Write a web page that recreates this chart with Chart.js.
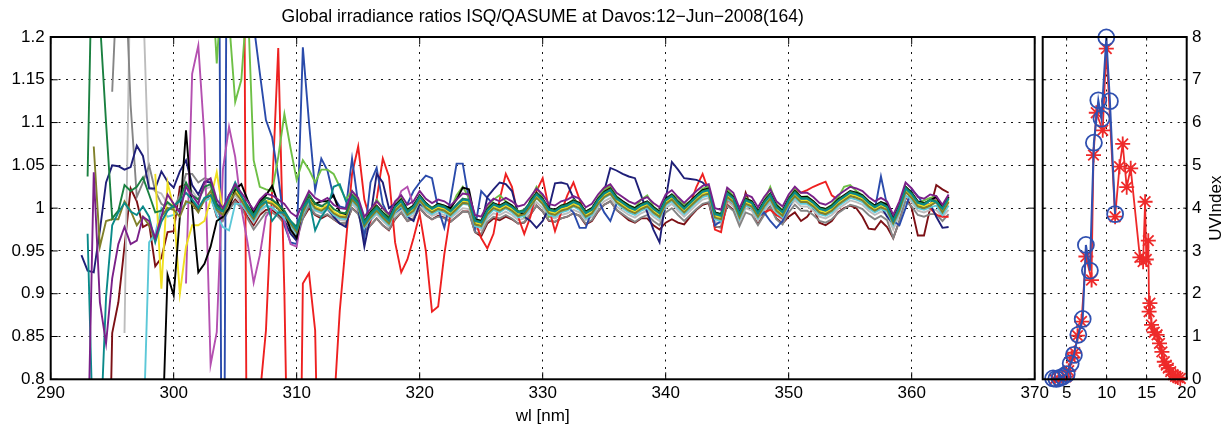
<!DOCTYPE html>
<html>
<head>
<meta charset="utf-8">
<script src="https://cdn.jsdelivr.net/npm/chart.js@4.4.1/dist/chart.umd.min.js"></script>
<style>
  html, body { margin: 0; padding: 0; background: #fff; }
  #wrap { position: relative; width: 1226px; height: 428px; background: #fff; overflow: hidden; }
  canvas { position: absolute; top: 0; }
  #ratio-chart { left: 0; }
  #uv-chart { left: 1030px; }
</style>
</head>
<body>
<div id="wrap">
  <canvas id="ratio-chart" width="1060" height="428"></canvas>
  <canvas id="uv-chart" width="196" height="428"></canvas>
</div>
<script>
// wavelengths [nm], 0.5 nm steps
const wavelengths = [
  292.5, 293, 293.5, 294, 294.5, 295, 295.5, 296, 296.5, 297,
  297.5, 298, 298.5, 299, 299.5, 300, 300.5, 301, 301.5, 302,
  302.5, 303, 303.5, 304, 304.5, 305, 305.5, 306, 306.5, 307,
  307.5, 308, 308.5, 309, 309.5, 310, 310.5, 311, 311.5, 312,
  312.5, 313, 313.5, 314, 314.5, 315, 315.5, 316, 316.5, 317,
  317.5, 318, 318.5, 319, 319.5, 320, 320.5, 321, 321.5, 322,
  322.5, 323, 323.5, 324, 324.5, 325, 325.5, 326, 326.5, 327,
  327.5, 328, 328.5, 329, 329.5, 330, 330.5, 331, 331.5, 332,
  332.5, 333, 333.5, 334, 334.5, 335, 335.5, 336, 336.5, 337,
  337.5, 338, 338.5, 339, 339.5, 340, 340.5, 341, 341.5, 342,
  342.5, 343, 343.5, 344, 344.5, 345, 345.5, 346, 346.5, 347,
  347.5, 348, 348.5, 349, 349.5, 350, 350.5, 351, 351.5, 352,
  352.5, 353, 353.5, 354, 354.5, 355, 355.5, 356, 356.5, 357,
  357.5, 358, 358.5, 359, 359.5, 360, 360.5, 361, 361.5, 362,
  362.5, 363
];

// irradiance ratios ISQ/QASUME, in thousandths
const purpleRatio = [
  null, 700, 1042, 890, 842, 918, 958, 978, 958, 962,
  990, 985, 965, 990, 1016, 1005, 995, 1025, 1015, 1005,
  1030, 1035, 1010, 1000, 1015, 1028, 1018, 1008, 998, 1010,
  1017, 1015, 1010, 1005, 995, 990, 1005, 1020, 1012, 1008,
  1012, 1004, 1000, 999, 1020, 1012, 990, 999, 1008, 1000,
  993, 1008, 1015, 1004, 1008, 1020, 1011, 1006, 1010, 1008,
  1003, 1010, 1017, 1016, 992, 990, 1004, 1011, 1008, 1012,
  1008, 1002, 1004, 1013, 1023, 1016, 1005, 1003, 1008, 1010,
  1014, 1011, 1001, 1005, 1016, 1024, 1028, 1018, 1013, 1008,
  1005, 1010, 1013, 1006, 1001, 1016, 1021, 1013, 1006, 1013,
  1020, 1026, 1028, 1000, 998, 1024, 1018, 1000, 1016, 1013,
  1001, 1013, 1022, 1008, 1002, 1016, 1025, 1018, 1018, 1013,
  1006, 1004, 1008, 1015, 1020, 1025, 1023, 1020, 1013, 1008,
  1012, 1008, 992, 1008, 1030, 1023, 1013, 1011, 1016, 1014,
  1004, 1016
];
const tealRatio = [
  null, 970, 700, 720, 896, 980, 995, 1006, 996, 992,
  1002, 990, 960, 984, 997, 1003, 1008, 1018, 1010, 1000,
  1012, 1015, 1000, 996, 1012, 1030, 1015, 1000, 990, 1003,
  1008, 985, 995, 995, 985, 975, 1000, 1010, 974, 990,
  1000, 1025, 1028, 1008, 1013, 1005, 982, 992, 1000, 992,
  985, 1001, 1008, 995, 1001, 1013, 1004, 999, 1003, 1001,
  996, 1003, 1010, 1009, 985, 983, 997, 1004, 1001, 1005,
  1001, 995, 996, 1006, 1016, 1009, 998, 996, 1001, 1003,
  1007, 1004, 994, 998, 1009, 1017, 1021, 1011, 1006, 1001,
  998, 1003, 1006, 999, 994, 1009, 1014, 1006, 999, 1006,
  1013, 1019, 1021, 993, 991, 1017, 1011, 993, 1009, 1006,
  994, 1006, 1015, 1001, 995, 1009, 1018, 1011, 1011, 1006,
  999, 997, 1001, 1008, 1013, 1018, 1016, 1013, 1006, 1001,
  1005, 1001, 985, 1001, 1023, 1016, 1006, 1004, 1009, 1007,
  999, 1011
];
const darkGreenRatio = [
  null, 1037, 1400, 1220, 1100, 988, 997, 1027, 1020, 1025,
  1036, 1016, 995, 997, 1007, 1001, 1010, 1030, 1015, 1010,
  1025, 1028, 1003, 997, 1012, 1025, 1014, 1003, 992, 1005,
  1012, 1010, 1004, 997, 985, 978, 1000, 1016, 1005, 1002,
  1007, 999, 995, 994, 1015, 1007, 984, 994, 1002, 994,
  987, 1002, 1009, 997, 1002, 1014, 1005, 1000, 1004, 1002,
  997, 1004, 1011, 1010, 986, 984, 998, 1005, 1002, 1006,
  1002, 996, 998, 1007, 1017, 1010, 999, 997, 1002, 1004,
  1008, 1005, 995, 999, 1010, 1018, 1022, 1012, 1007, 1002,
  999, 1004, 1007, 1000, 995, 1010, 1015, 1007, 1000, 1007,
  1014, 1020, 1022, 994, 992, 1018, 1012, 994, 1010, 1007,
  995, 1007, 1016, 1002, 996, 1010, 1019, 1012, 1012, 1007,
  1000, 998, 1002, 1009, 1014, 1019, 1017, 1014, 1007, 1002,
  1006, 1002, 986, 1002, 1024, 1017, 1007, 1005, 1010, 1008,
  1000, 1012
];
const oliveRatio = [
  null, null, 1072, 955, 985, 987, 987, 1008, 997, 980,
  990, 980, 962, 990, 1000, 998, 990, 1008, 1005, 995,
  1010, 1020, 998, 992, 1007, 1018, 1009, 997, 987, 1000,
  1007, 1005, 999, 992, 982, 972, 995, 1010, 1000, 997,
  1002, 994, 990, 989, 1010, 1002, 979, 989, 997, 989,
  982, 997, 1004, 992, 997, 1009, 1000, 995, 999, 997,
  992, 999, 1006, 1005, 981, 979, 993, 1000, 997, 1001,
  997, 991, 993, 1002, 1012, 1005, 994, 992, 997, 999,
  1003, 1000, 990, 994, 1005, 1013, 1017, 1007, 1002, 997,
  994, 999, 1002, 995, 990, 1005, 1010, 1002, 995, 1002,
  1009, 1015, 1017, 989, 987, 1013, 1007, 989, 1005, 1002,
  990, 1002, 1011, 997, 991, 1005, 1014, 1007, 1007, 1002,
  995, 993, 997, 1004, 1009, 1014, 1012, 1009, 1002, 997,
  1001, 998, 982, 997, 1019, 1012, 1002, 1000, 1003, 1007,
  995, 1007
];
const blackRatio = [
  null, null, null, null, null, null, null, null, null, null,
  null, null, null, 700, 922, 898, 990, 1091, 1000, 925,
  935, 955, 985, 990, 1000, 1022, 1028, 1010, 995, 1008,
  1015, 1026, 1005, 995, 975, 965, 1000, 1015, 1005, 1008,
  1008, 1015, 995, 993, 1015, 1007, 984, 995, 1003, 995,
  988, 1003, 1010, 998, 1003, 1015, 1006, 1000, 1005, 1003,
  1000, 1010, 1024, 1022, 987, 985, 999, 1006, 1003, 1007,
  1003, 996, 993, 1008, 1018, 1011, 1000, 998, 1003, 1005,
  1009, 1006, 996, 1000, 1011, 1019, 1023, 1013, 1008, 1003,
  1000, 1005, 1008, 1001, 996, 1011, 1016, 1008, 1001, 1008,
  1015, 1021, 1023, 995, 993, 1019, 1013, 995, 1011, 1008,
  996, 1008, 1017, 1003, 997, 1011, 1020, 1013, 1013, 1008,
  1001, 999, 1003, 1010, 1015, 1020, 1018, 1015, 1008, 1003,
  1007, 1004, 988, 1003, 1025, 1018, 1008, 1006, 1009, 1013,
  1001, 1013
];
const yellowRatio = [
  null, null, null, null, null, null, null, null, null, null,
  null, null, 1040, 906, 1030, 1000, 900, 955, 980, 980,
  985, 1010, 1042, 995, 1008, 1020, 1011, 1000, 990, 1002,
  1009, 1007, 1001, 994, 984, 974, 997, 1012, 1002, 999,
  1004, 996, 992, 991, 1012, 1004, 981, 991, 999, 991,
  984, 999, 1006, 994, 999, 1011, 1002, 997, 1001, 999,
  994, 1001, 1008, 1007, 983, 981, 995, 1002, 999, 1003,
  999, 993, 995, 1004, 1014, 1007, 996, 994, 999, 1001,
  1005, 1002, 992, 996, 1007, 1015, 1019, 1009, 1004, 999,
  996, 1001, 1004, 997, 992, 1007, 1012, 1004, 997, 1004,
  1011, 1017, 1019, 991, 989, 1015, 1009, 991, 1007, 1004,
  992, 1004, 1013, 999, 993, 1007, 1016, 1009, 1009, 1004,
  997, 995, 999, 1006, 1011, 1016, 1014, 1011, 1004, 999,
  1003, 1000, 984, 999, 1021, 1014, 1004, 1002, 1005, 1009,
  997, 1009
];
const cyanRatio = [
  null, null, null, null, null, null, null, null, null, null,
  720, 960, 970, 1000, 990, 992, 998, 1005, 1010, 1002,
  1008, 1012, 992, 978, 974, 1005, 1005, 995, 985, 998,
  1003, 1001, 995, 988, 980, 970, 993, 1008, 998, 995,
  1000, 992, 988, 987, 1008, 1000, 977, 987, 995, 987,
  980, 995, 1002, 990, 995, 1008, 998, 993, 997, 995,
  990, 997, 1005, 1004, 979, 977, 991, 998, 995, 1000,
  995, 989, 991, 1000, 1012, 1004, 992, 990, 995, 997,
  1002, 998, 988, 992, 1004, 1012, 1016, 1006, 1000, 995,
  992, 997, 1000, 993, 988, 1003, 1008, 1000, 993, 1000,
  1007, 1013, 1015, 987, 985, 1011, 1005, 987, 1003, 1000,
  988, 1000, 1009, 995, 989, 1003, 1012, 1005, 1005, 1000,
  993, 991, 995, 1002, 1007, 1012, 1010, 1007, 1000, 995,
  999, 996, 980, 995, 1015, 1010, 1000, 998, 1001, 1003,
  992, 1003
];
const limeRatio = [
  null, null, null, null, null, null, null, null, null, null,
  null, null, null, null, null, null, null, null, null, null,
  null, 1300, 1169, 1280, 1220, 1124, 1150, 1250, 1056, 1025,
  1022, 1020, 1060, 1110, 1070, 1033, 1056, 1045, 1030, 1045,
  1045, 1040, 1025, 1010, 1020, 1008, 985, 995, 1010, 1000,
  990, 1003, 1012, 998, 1003, 1015, 1006, 1000, 1005, 1003,
  998, 1015, 1025, 1012, 987, 985, 1000, 1010, 1015, 1008,
  1003, 997, 990, 1010, 1025, 1012, 990, 997, 1003, 1005,
  1010, 1006, 996, 1000, 1012, 1022, 1026, 1014, 1008, 1004,
  1000, 1010, 1015, 1002, 996, 1010, 1016, 1012, 1004, 1008,
  1015, 1023, 1025, 995, 993, 1022, 1014, 995, 1012, 1008,
  996, 1008, 1025, 1005, 997, 1012, 1022, 1013, 1014, 1008,
  1001, 999, 1004, 1012, 1025, 1027, 1020, 1015, 1008, 1003,
  1007, 1005, 990, 1003, 1025, 1018, 1006, 1009, 1012, 1014,
  1000, 1013
];
const magentaRatio = [
  null, null, null, null, null, null, null, null, null, null,
  null, null, null, null, null, null, null, 912, 1157, 1190,
  1082, 817, 855, 1045, 1095, 1060, 1000, 960, 913, 945,
  990, 1000, 1005, 985, 958, 955, 1000, 1015, 1000, 995,
  1003, 995, 990, 990, 1010, 1003, 978, 990, 998, 990,
  984, 1000, 1020, 1025, 1003, 1012, 1003, 998, 1002, 1000,
  994, 1004, 1011, 1008, 983, 982, 998, 1005, 1000, 1003,
  1000, 994, 998, 1007, 1017, 1008, 997, 997, 1002, 1004,
  1008, 1003, 993, 999, 1010, 1016, 1020, 1012, 1007, 1002,
  997, 1002, 1007, 998, 995, 1008, 1015, 1005, 1000, 1005,
  1014, 1018, 1022, 992, 990, 1016, 1012, 992, 1010, 1005,
  995, 1005, 1016, 1000, 996, 1008, 1019, 1010, 1012, 1005,
  1000, 996, 1002, 1007, 1014, 1017, 1017, 1012, 1007, 1000,
  1006, 1000, 986, 1000, 1024, 1015, 1007, 1003, 1010, 1011,
  1001, 1014
];
const navyRatio = [
  945, 927, 925, 974, 1030, 1050, 1049, 1045, 1048, 1073,
  1061, 1023, 1023, 1043, 1031, 1024, 1043, 1056, 1027, 1016,
  1031, 1030, 1005, 998, 1015, 1025, 1012, 1000, 992, 1005,
  1012, 1010, 1000, 985, 970, 962, 995, 1015, 1005, 1003,
  1000, 990, 982, 978, 1012, 1000, 955, 990, 1040, 1030,
  1000, 1005, 1010, 990, 985, 1005, 1000, 995, 1000, 998,
  995, 1000, 1008, 1005, 983, 980, 1013, 1022, 1030, 1028,
  1020, 994, 990, 985, 977, 985, 1000, 1029, 1030, 1028,
  1012, 1003, 992, 997, 1010, 1020, 1047, 1044, 1040, 1037,
  1035, 1015, 995, 975, 960, 1010, 1054, 1045, 1035, 1034,
  1033, 1030, 1022, 995, 990, 1015, 1010, 992, 1005, 1003,
  993, 1003, 1012, 998, 992, 1005, 1015, 1008, 1008, 1003,
  996, 994, 998, 1005, 1010, 1015, 1013, 1010, 1003, 998,
  1002, 990, 982, 998, 1020, 1013, 1003, 1000, 1005, 990,
  977, 978
];
const blueRatio = [
  null, null, null, null, null, null, null, null, null, null,
  null, null, null, null, null, null, null, null, null, null,
  null, null, 2000, 300, 2000, 1600, 1500, 1400, 1215, 1158,
  1103, 1083, 1037, 980, 960, 958, 1188, 1100, 1021, 1058,
  1044, 1013, 1002, 1000, 1058, 1005, 965, 1030, 1047, 1005,
  990, 995, 1000, 1005, 1020, 1030, 1038, 1035, 1000, 977,
  1010, 1052, 1052, 1010, 977, 1020, 1012, 1005, 1003, 1000,
  996, 990, 995, 1005, 1015, 1008, 997, 993, 1000, 1002,
  995, 977, 977, 997, 1010, 995, 985, 1005, 1005, 1000,
  997, 1000, 1005, 998, 993, 1008, 1012, 1004, 997, 1004,
  1012, 1018, 1018, 980, 985, 1014, 1008, 990, 1006, 1003,
  990, 995, 985, 977, 985, 1000, 1015, 1010, 1008, 1000,
  995, 993, 998, 1005, 1010, 1016, 1014, 1010, 1003, 998,
  1037, 1003, 985, 980, 1000, 1022, 1014, 1004, 1005, 1008,
  1000, 1008
];
const redRatio = [
  null, null, null, null, null, null, null, null, null, null,
  null, null, null, null, null, null, null, null, null, null,
  null, null, null, null, null, null, 2000, 500, 500, 780,
  857, 1020, 1187, 900, 500, 300, 912, 924, 857, 500,
  600, 760, 880, 960, 1040, 1072, 1010, 985, 1010, 1058,
  1037, 960, 925, 940, 965, 993, 950, 879, 885, 946,
  993, 1003, 1008, 1005, 985, 965, 953, 970, 1010, 1040,
  1025, 990, 970, 990, 1020, 1035, 1000, 973, 995, 1015,
  1030, 1010, 990, 995, 1010, 1020, 1025, 1010, 1005, 998,
  995, 1000, 1003, 996, 992, 1006, 1010, 1003, 997, 1005,
  1025, 1040, 1020, 975, 972, 1010, 1005, 990, 1003, 1000,
  990, 995, 998, 992, 988, 1010, 1022, 1018, 1021, 1025,
  1028, 1031, 1015, 1010, 1012, 1015, 1013, 1010, 1003, 998,
  1002, 1000, 985, 998, 1020, 1012, 1002, 1003, 1000, 992,
  990, 990
];
const grayRatio = [
  null, null, null, null, null, 1136, 1300, 1300, 1120, 1013,
  1030, 1050, 1020, 1005, 1000, 1000, 1015, 1040, 1040, 1030,
  1035, 1033, 998, 985, 998, 1008, 1000, 988, 975, 985,
  995, 995, 990, 982, 972, 962, 988, 1003, 993, 990,
  993, 987, 983, 982, 1000, 993, 970, 980, 988, 980,
  975, 988, 995, 985, 988, 1000, 992, 987, 990, 988,
  984, 990, 996, 995, 972, 970, 984, 990, 988, 992,
  988, 982, 984, 993, 1003, 996, 986, 984, 988, 990,
  994, 991, 982, 986, 997, 1004, 1008, 998, 993, 988,
  984, 989, 992, 985, 980, 995, 1000, 992, 985, 992,
  999, 1005, 1007, 979, 977, 1003, 997, 979, 995, 992,
  980, 992, 1001, 987, 981, 995, 1004, 997, 997, 992,
  985, 983, 987, 994, 999, 1004, 1002, 999, 992, 987,
  991, 986, 965, 985, 1008, 1002, 992, 990, 993, 993,
  985, 993
];
const lightGrayRatio = [
  null, null, null, null, null, null, null, 854, 1300, 1350,
  1250, 1025, 1020, 1017, 1005, 1000, 1010, 1025, 1020, 1010,
  1022, 1025, 1000, 990, 1005, 1015, 1005, 995, 983, 995,
  1002, 1000, 995, 988, 978, 968, 992, 1007, 997, 994,
  998, 990, 986, 985, 1005, 997, 975, 985, 993, 985,
  978, 992, 999, 988, 992, 1004, 996, 991, 994, 992,
  988, 994, 1000, 999, 976, 974, 988, 994, 992, 996,
  992, 986, 988, 997, 1007, 1000, 990, 988, 992, 994,
  998, 995, 986, 990, 1001, 1008, 1012, 1002, 997, 992,
  989, 994, 997, 990, 985, 1000, 1005, 997, 990, 997,
  1004, 1010, 1012, 984, 982, 1008, 1002, 984, 1000, 997,
  985, 997, 1006, 992, 986, 1000, 1009, 1002, 1002, 997,
  990, 988, 992, 999, 1004, 1009, 1007, 1004, 997, 992,
  996, 992, 975, 992, 1014, 1007, 997, 995, 998, 998,
  990, 998
];
const maroonRatio = [
  null, null, null, null, 500, 854, 890, 955, 1023, 1008,
  978, 982, 932, 942, 972, 973, 1025, 1028, 1008, 998,
  1010, 1015, 990, 988, 1000, 1010, 1002, 990, 980, 992,
  998, 998, 992, 985, 978, 970, 988, 1000, 992, 988,
  992, 987, 982, 982, 1000, 994, 972, 980, 988, 980,
  974, 987, 995, 985, 988, 1000, 992, 987, 991, 989,
  984, 990, 996, 996, 972, 967, 982, 988, 986, 990,
  987, 982, 983, 992, 1003, 996, 985, 984, 988, 990,
  994, 991, 981, 985, 996, 1004, 1008, 998, 992, 986,
  983, 988, 988, 980, 975, 983, 987, 983, 981, 990,
  998, 1004, 1006, 978, 978, 1004, 998, 985, 1018, 1000,
  982, 993, 1002, 988, 982, 990, 995, 985, 990, 1000,
  983, 980, 985, 995, 1000, 1003, 1000, 990, 976, 975,
  985, 978, 965, 985, 1015, 1000, 968, 968, 1000, 1027,
  1022, 1018
];

const wlTicks = [290, 300, 310, 320, 330, 340, 350, 360, 370];
const ratioTicks = [0.8, 0.85, 0.9, 0.95, 1, 1.05, 1.1, 1.15, 1.2];

// UV index through the day (hour)
const qasumeHours = [3.3, 3.7, 4.1, 4.5, 5.0, 5.5, 5.9, 6.45, 7.0, 7.4, 7.9, 8.4, 8.95, 9.35, 9.95, 10.4, 11.05];
const qasumeUV = [0.02, 0.01, 0.03, 0.06, 0.12, 0.37, 0.57, 1.04, 1.41, 3.14, 2.54, 5.53, 6.52, 6.09, 7.99, 6.5, 3.86];
const isqHours = [3.5, 4.0, 4.5, 4.9, 5.25, 5.6, 6.0, 6.35, 6.85, 7.4, 8.1, 8.35, 8.7, 9.5, 9.95, 11.05, 11.6, 12.0, 12.5, 13.0, 14.15, 14.55, 14.8, 14.95, 15.2, 15.3, 15.4, 15.6, 15.95, 16.3, 16.6, 16.9, 17.2, 17.45, 17.7, 18.0, 18.3, 18.6, 18.9, 19.2];
const isqUV = [0.0, 0.01, 0.03, 0.06, 0.2, 0.5, 0.62, 1.02, 1.35, 2.87, 2.32, 5.24, 6.23, 5.82, 7.73, 3.8, 4.97, 5.5, 4.49, 4.93, 2.85, 2.75, 4.15, 2.8, 3.24, 1.58, 1.78, 1.27, 1.1, 1.04, 0.84, 0.64, 0.41, 0.33, 0.26, 0.18, 0.11, 0.07, 0.04, 0.02];

const hourTicks = [5, 10, 15, 20];
const uvTicks = [0, 1, 2, 3, 4, 5, 6, 7, 8];

Chart.defaults.font.family = "'Liberation Sans', Arial, Helvetica, sans-serif";
Chart.defaults.font.size = 17;
Chart.defaults.color = '#000';

// box around the axes plus the small inward tick marks
const framePlugin = {
    id: 'frame',
    afterDraw(chart, args, opts) {
        const { ctx, chartArea: a, scales } = chart;
        const len = opts.tick || 7;
        ctx.save();
        ctx.strokeStyle = '#000';
        ctx.lineWidth = 1;
        ctx.beginPath();
        scales.x.ticks.forEach(t => {
            const px = scales.x.getPixelForValue(t.value);
            ctx.moveTo(px, a.bottom); ctx.lineTo(px, a.bottom - len);
            ctx.moveTo(px, a.top); ctx.lineTo(px, a.top + len);
        });
        scales.y.ticks.forEach(t => {
            const py = scales.y.getPixelForValue(t.value);
            ctx.moveTo(a.left, py); ctx.lineTo(a.left + len, py);
            ctx.moveTo(a.right, py); ctx.lineTo(a.right - len, py);
        });
        ctx.stroke();
        ctx.lineWidth = 2;
        ctx.strokeRect(a.left, a.top, a.right - a.left, a.bottom - a.top);
        ctx.restore();
    }
};

const dottedGrid = { color: '#111', lineWidth: 1, drawTicks: false };
const dottedBorder = { display: false, dash: [2, 5.5] };

const ratioSeries = [
    { label: 'purple', values: purpleRatio, color: '#7a2089' },
    { label: 'teal', values: tealRatio, color: '#0a8a8a' },
    { label: 'green', values: darkGreenRatio, color: '#1a8040' },
    { label: 'olive', values: oliveRatio, color: '#80802a' },
    { label: 'black', values: blackRatio, color: '#000000' },
    { label: 'yellow', values: yellowRatio, color: '#f0e020' },
    { label: 'cyan', values: cyanRatio, color: '#5cc8d8' },
    { label: 'lime', values: limeRatio, color: '#6ec046' },
    { label: 'magenta', values: magentaRatio, color: '#b450b0' },
    { label: 'navy', values: navyRatio, color: '#1f1f78' },
    { label: 'blue', values: blueRatio, color: '#2a4bab' },
    { label: 'red', values: redRatio, color: '#ee2020' },
    { label: 'gray', values: grayRatio, color: '#858585' },
    { label: 'lightgray', values: lightGrayRatio, color: '#bdbdbd' },
    { label: 'maroon', values: maroonRatio, color: '#7c1015' }
];

new Chart(document.getElementById('ratio-chart'), {
    type: 'line',
    data: {
        datasets: ratioSeries.map(s => ({
            label: s.label,
            data: wavelengths.map((w, i) => ({ x: w, y: s.values[i] == null ? null : s.values[i] / 1000 })),
            borderColor: s.color,
            borderWidth: 1.9,
            pointRadius: 0,
            tension: 0,
            spanGaps: false
        }))
    },
    options: {
        responsive: false,
        animation: false,
        devicePixelRatio: 1,
        layout: { padding: { left: 0, right: 25.3, top: 0, bottom: 0 } },
        plugins: {
            legend: { display: false },
            tooltip: { enabled: false },
            title: {
                display: true,
                text: 'Global irradiance ratios ISQ/QASUME at Davos:12\u2212Jun\u22122008(164)',
                fullSize: false,
                color: '#000',
                font: { size: 17.5, weight: 'normal' },
                padding: { top: 7, bottom: 9 }
            },
            frame: { tick: 7 }
        },
        scales: {
            x: {
                type: 'linear',
                min: 290,
                max: 370,
                afterBuildTicks: s => { s.ticks = wlTicks.map(v => ({ value: v })); },
                afterFit: s => { s.height = 48.7; },
                ticks: { padding: 4, maxRotation: 0, callback: v => String(v) },
                grid: dottedGrid,
                border: dottedBorder,
                title: { display: true, text: 'wl [nm]', font: { size: 17 }, padding: { top: 1.8, bottom: 1.8 } }
            },
            y: {
                min: 0.8,
                max: 1.2,
                afterBuildTicks: s => { s.ticks = ratioTicks.map(v => ({ value: v })); },
                afterFit: s => { s.width = 50.7; },
                ticks: { padding: 6, callback: v => String(Number(v.toFixed(2))) },
                grid: dottedGrid,
                border: dottedBorder
            }
        }
    },
    plugins: [framePlugin]
});

// rotated y label on the right hand side, reading upwards
const uvLabelPlugin = {
    id: 'uvLabel',
    afterDraw(chart) {
        const { ctx, chartArea: a } = chart;
        ctx.save();
        ctx.translate(a.right + 29.3, (a.top + a.bottom) / 2);
        ctx.rotate(-Math.PI / 2);
        ctx.textAlign = 'center';
        ctx.textBaseline = 'middle';
        ctx.fillStyle = '#000';
        ctx.font = "17px 'Liberation Sans', Arial, Helvetica, sans-serif";
        ctx.fillText('UVIndex', 0, 0);
        ctx.restore();
    }
};

new Chart(document.getElementById('uv-chart'), {
    type: 'line',
    data: {
        datasets: [
            {
                label: 'QASUME',
                data: qasumeHours.map((h, i) => ({ x: h, y: qasumeUV[i] })),
                borderColor: '#3050b0',
                borderWidth: 2,
                pointStyle: 'circle',
                pointRadius: 8,
                pointBorderWidth: 1.8,
                pointBackgroundColor: 'rgba(0,0,0,0)',
                pointBorderColor: '#3050b0',
                tension: 0,
                clip: false
            },
            {
                label: 'ISQ',
                data: isqHours.map((h, i) => ({ x: h, y: isqUV[i] })),
                borderColor: '#ee2a2a',
                borderWidth: 1.8,
                pointStyle: 'star',
                pointRadius: 7.5,
                pointBorderWidth: 1.8,
                pointBorderColor: '#ee2a2a',
                tension: 0,
                clip: false
            }
        ]
    },
    options: {
        responsive: false,
        animation: false,
        devicePixelRatio: 1,
        layout: { padding: { left: 12.7, right: 0, top: 37, bottom: 0 } },
        plugins: {
            legend: { display: false },
            tooltip: { enabled: false },
            frame: { tick: 3.5 }
        },
        scales: {
            x: {
                type: 'linear',
                min: 2,
                max: 20,
                afterBuildTicks: s => { s.ticks = hourTicks.map(v => ({ value: v })); },
                afterFit: s => { s.height = 48.7; },
                ticks: { padding: 4, maxRotation: 0, callback: v => String(v) },
                grid: dottedGrid,
                border: dottedBorder
            },
            y: {
                position: 'right',
                min: 0,
                max: 8,
                afterBuildTicks: s => { s.ticks = uvTicks.map(v => ({ value: v })); },
                afterFit: s => { s.width = 39.3; },
                ticks: { padding: 5.3, callback: v => String(v) },
                grid: dottedGrid,
                border: dottedBorder
            }
        }
    },
    plugins: [framePlugin, uvLabelPlugin]
});
</script>
</body>
</html>
